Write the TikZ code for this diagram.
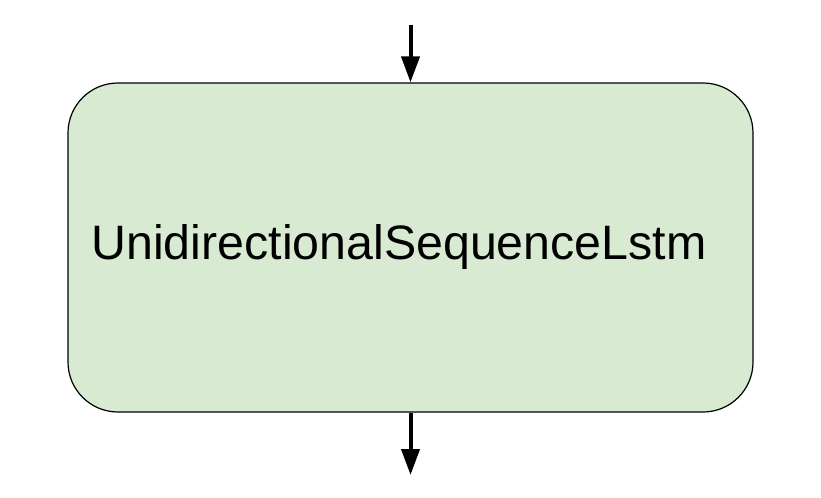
\documentclass[tikz,border=0pt]{standalone}
\usepackage{fontspec}
\setmainfont{Liberation Sans}
\usetikzlibrary{arrows.meta}
\definecolor{boxgreen}{HTML}{D9EAD3}
\begin{document}
\begin{tikzpicture}[x=1bp, y=-1bp]
%style for the operation box
\tikzset{opbox/.style={rectangle, rounded corners=50bp, fill=boxgreen, draw=black,
  line width=1.2bp, minimum width=685bp, minimum height=329bp, inner sep=0pt}}
%style for the flow arrows
\tikzset{flow/.style={line width=4bp, -{Triangle[width=18bp,length=26bp]}}}

\useasboundingbox (0,0) rectangle (821,498);

%place nodes
\node[opbox] (lstm) at (410.5,247.5) {};
\node[font=\fontsize{48.5}{58}\selectfont] (lstmlabel) at (399,247) {UnidirectionalSequenceLstm};
\coordinate (input) at (410.5,25);
\coordinate (output) at (410.5,475);

%connect nodes with arrows
\draw[flow] (input) -- (lstm.north);
\draw[flow] (lstm.south) -- (output);
\end{tikzpicture}
\end{document}
